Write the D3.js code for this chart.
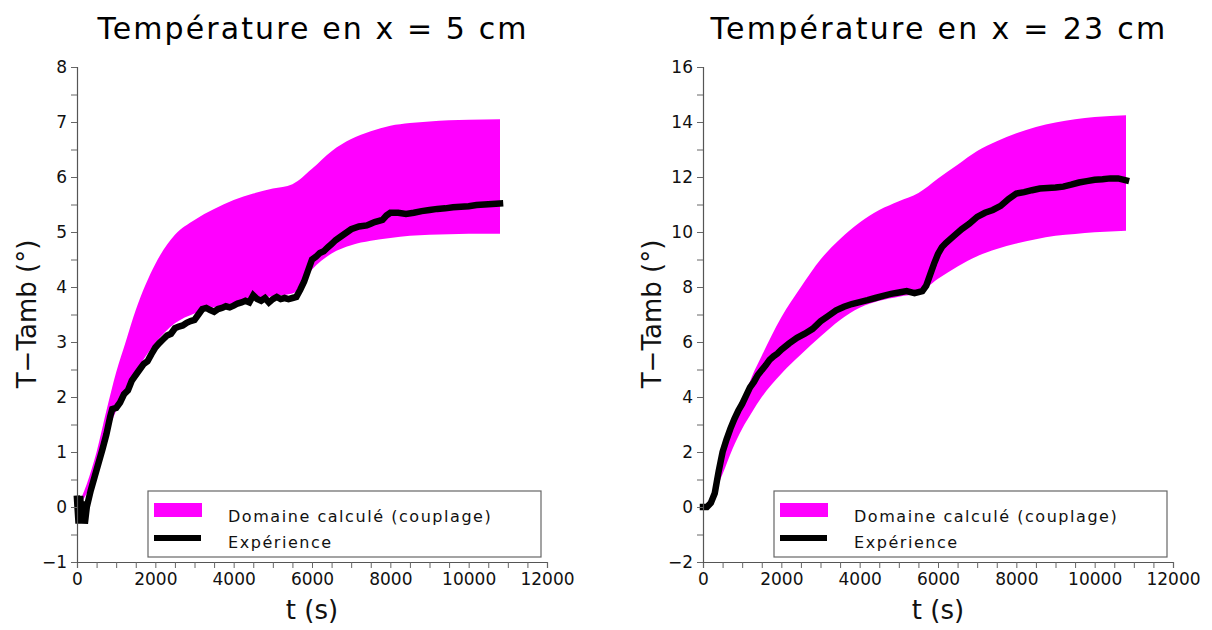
<!DOCTYPE html>
<html>
<head>
<meta charset="utf-8">
<script src="https://cdn.jsdelivr.net/npm/d3@7"></script>
<style>
  html, body { margin: 0; padding: 0; background: #fff; }
  svg { display: block; font-family: "DejaVu Sans", sans-serif; }
</style>
</head>
<body>
<svg id="chart" width="1212" height="630"></svg>
<script>
// ---------- DATA ----------
const titles = ["Température en x = 5 cm", "Température en x = 23 cm"];
const xLabel = "t (s)";
const yLabel = "T\u2212Tamb (°)";
const legendLabels = ["Domaine calculé (couplage)", "Expérience"];

const xTicks = d3.range(0, 12001, 500);
const xTickLabels = [0, 2000, 4000, 6000, 8000, 10000, 12000];
const yTicksLeft = d3.range(-1, 8.001, 0.5);
const yTickLabelsLeft = [-1, 0, 1, 2, 3, 4, 5, 6, 7, 8];
const yTicksRight = d3.range(-2, 16.001, 1);
const yTickLabelsRight = [-2, 0, 2, 4, 6, 8, 10, 12, 14, 16];

// computed band (time, lower, upper)
const tBand = [0, 250, 500, 750, 1000, 1250, 1500, 2000, 2500, 3000, 3500, 4000, 4500, 5000, 5500, 6000, 6500, 7000, 7500, 8000, 8500, 9000, 9500, 10000, 10800];
const leftLower = [0, 0.25, 0.72, 1.3, 1.75, 2.12, 2.45, 2.98, 3.34, 3.52, 3.63, 3.71, 3.78, 3.83, 3.88, 4.32, 4.61, 4.76, 4.84, 4.89, 4.93, 4.95, 4.96, 4.97, 4.97];
const leftUpper = [0, 0.42, 1.0, 1.75, 2.45, 3.02, 3.58, 4.42, 4.95, 5.22, 5.42, 5.58, 5.7, 5.79, 5.87, 6.15, 6.47, 6.69, 6.83, 6.93, 6.98, 7.01, 7.03, 7.04, 7.05];
const rightLower = [0, 0.4, 1.2, 2.1, 2.85, 3.45, 4.0, 4.85, 5.55, 6.2, 6.8, 7.25, 7.5, 7.65, 7.78, 8.3, 8.75, 9.12, 9.38, 9.58, 9.74, 9.86, 9.93, 9.99, 10.05];
const rightUpper = [0, 0.5, 1.7, 2.8, 3.8, 4.75, 5.5, 6.9, 8.0, 9.0, 9.75, 10.35, 10.8, 11.12, 11.42, 11.95, 12.45, 12.95, 13.3, 13.59, 13.82, 13.98, 14.1, 14.18, 14.25];

// experiment, x = 5 cm
const tExpLeft = [0, 40, 80, 120, 160, 200, 250, 300, 350, 450, 550, 650, 750, 850, 900, 1000, 1100, 1200, 1300, 1400, 1500, 1600, 1700, 1800, 1900, 2000, 2100, 2200, 2300, 2400, 2500, 2600, 2700, 2800, 2900, 3000, 3100, 3200, 3300, 3400, 3500, 3600, 3700, 3800, 3900, 4000, 4100, 4200, 4300, 4400, 4500, 4600, 4700, 4800, 4900, 5000, 5100, 5200, 5300, 5400, 5500, 5600, 5700, 5800, 5900, 6000, 6100, 6200, 6300, 6400, 6500, 6600, 6700, 6800, 6900, 7000, 7200, 7400, 7500, 7600, 7800, 7900, 8000, 8200, 8400, 8600, 8800, 9000, 9200, 9400, 9600, 9800, 10000, 10200, 10400, 10600, 10800];
const expLeft = [0.15, -0.3, 0.2, -0.25, 0.1, -0.3, 0.0, 0.15, 0.3, 0.55, 0.8, 1.05, 1.32, 1.65, 1.78, 1.8, 1.9, 2.05, 2.12, 2.3, 2.4, 2.5, 2.6, 2.65, 2.78, 2.9, 2.98, 3.05, 3.12, 3.15, 3.25, 3.28, 3.3, 3.35, 3.38, 3.4, 3.5, 3.6, 3.62, 3.58, 3.55, 3.6, 3.62, 3.65, 3.63, 3.66, 3.7, 3.72, 3.75, 3.72, 3.85, 3.78, 3.75, 3.8, 3.72, 3.78, 3.82, 3.78, 3.8, 3.78, 3.8, 3.82, 3.95, 4.1, 4.3, 4.5, 4.55, 4.62, 4.65, 4.72, 4.78, 4.85, 4.9, 4.95, 5.0, 5.05, 5.1, 5.12, 5.15, 5.18, 5.22, 5.3, 5.35, 5.35, 5.33, 5.35, 5.38, 5.4, 5.42, 5.43, 5.45, 5.46, 5.47, 5.49, 5.5, 5.51, 5.52];

// experiment, x = 23 cm
const tExpRight = [0, 100, 200, 300, 350, 400, 450, 500, 600, 700, 800, 900, 1000, 1100, 1200, 1300, 1400, 1500, 1600, 1700, 1800, 1900, 2000, 2200, 2400, 2600, 2800, 3000, 3200, 3400, 3600, 3800, 4000, 4200, 4400, 4600, 4800, 5000, 5200, 5400, 5600, 5700, 5800, 5900, 6000, 6100, 6200, 6400, 6600, 6800, 7000, 7200, 7400, 7600, 7800, 8000, 8200, 8400, 8600, 8800, 9000, 9200, 9400, 9600, 9800, 10000, 10200, 10400, 10600, 10800];
const expRight = [0, 0.0, 0.15, 0.5, 0.9, 1.3, 1.65, 2.0, 2.45, 2.85, 3.2, 3.5, 3.75, 4.05, 4.35, 4.55, 4.8, 4.98, 5.15, 5.35, 5.48, 5.58, 5.72, 5.95, 6.15, 6.3, 6.48, 6.75, 6.95, 7.15, 7.28, 7.38, 7.45, 7.52, 7.6, 7.68, 7.75, 7.8, 7.85, 7.78, 7.85, 8.05, 8.45, 8.85, 9.2, 9.45, 9.6, 9.85, 10.1, 10.3, 10.55, 10.7, 10.8, 10.95, 11.2, 11.4, 11.45, 11.52, 11.58, 11.6, 11.62, 11.65, 11.72, 11.8, 11.85, 11.9, 11.92, 11.95, 11.95, 11.88];

// ---------- DRAW ----------
const svg = d3.select("#chart");
const fmt = v => (v < 0 ? "\u2212" + Math.abs(v) : String(v));

const panels = [
  { title: titles[0], x0: 77, yDomain: [-1, 8], yTicks: yTicksLeft, yLabels: yTickLabelsLeft,
    lower: leftLower, upper: leftUpper, tExp: tExpLeft, exp: expLeft, yLabX: 36, ls: 2.1 },
  { title: titles[1], x0: 703, yDomain: [-2, 16], yTicks: yTicksRight, yLabels: yTickLabelsRight,
    lower: rightLower, upper: rightUpper, tExp: tExpRight, exp: expRight, yLabX: 661, ls: 2.3 }
];

panels.forEach(p => {
  const x = d3.scaleLinear().domain([0, 12000]).range([p.x0, p.x0 + 470]);
  const y = d3.scaleLinear().domain(p.yDomain).range([562, 67]);
  const g = svg.append("g");

  // band
  const bandData = tBand.map((t, i) => ({ t, lo: p.lower[i], hi: p.upper[i] }));
  g.append("path")
    .datum(bandData)
    .attr("fill", "#ff00ff")
    .attr("d", d3.area().curve(d3.curveMonotoneX)
      .x(d => x(d.t)).y0(d => y(d.lo)).y1(d => y(d.hi)));

  // experiment
  const expData = p.tExp.map((t, i) => ({ t, v: p.exp[i] }));
  g.append("path")
    .datum(expData)
    .attr("fill", "none")
    .attr("stroke", "#000")
    .attr("stroke-width", 6.5)
    .attr("stroke-linejoin", "miter")
    .attr("stroke-linecap", "square")
    .attr("d", d3.line().x(d => x(d.t)).y(d => y(d.v)));

  // axes
  const xAxis = d3.axisBottom(x).tickValues(xTicks)
    .tickFormat(d => xTickLabels.includes(d) ? fmt(d) : "")
    .tickSizeOuter(0).tickSize(6).tickPadding(5);
  const gx = g.append("g").attr("transform", "translate(0,562)").call(xAxis);
  const yAxis = d3.axisLeft(y).tickValues(p.yTicks)
    .tickFormat(d => p.yLabels.includes(d) ? fmt(d) : "")
    .tickSizeOuter(0).tickSize(6).tickPadding(4);
  const gy = g.append("g").attr("transform", `translate(${p.x0},0)`).call(yAxis);
  [gx, gy].forEach(a => {
    a.select(".domain").attr("stroke", "#555").attr("stroke-width", 1.2);
    a.selectAll(".tick line").attr("stroke", "#666");
    a.selectAll(".tick text").attr("fill", "#111").style("font-size", "17px")
      .style("font-family", "'DejaVu Sans', sans-serif");
  });

  // title
  g.append("text")
    .attr("x", p.x0 + 236).attr("y", 39)
    .attr("text-anchor", "middle")
    .style("font-size", "30px").style("letter-spacing", p.ls + "px")
    .attr("fill", "#000")
    .text(p.title);

  // axis labels
  g.append("text")
    .attr("x", p.x0 + 235).attr("y", 619)
    .attr("text-anchor", "middle")
    .style("font-size", "26px")
    .attr("fill", "#111")
    .text(xLabel);
  g.append("text")
    .attr("transform", `translate(${p.yLabX},314) rotate(-90)`)
    .attr("text-anchor", "middle")
    .style("font-size", "26px")
    .attr("fill", "#111")
    .text(yLabel);

  // legend
  const lx = p.x0 + 71, ly = 491;
  const lg = g.append("g");
  lg.append("rect").attr("x", lx).attr("y", ly).attr("width", 393).attr("height", 66)
    .attr("fill", "#fff").attr("stroke", "#666").attr("stroke-width", 1.2);
  lg.append("rect").attr("x", lx + 6).attr("y", ly + 12).attr("width", 48).attr("height", 14)
    .attr("fill", "#ff00ff");
  lg.append("line").attr("x1", lx + 6).attr("x2", lx + 53).attr("y1", ly + 47).attr("y2", ly + 47)
    .attr("stroke", "#000").attr("stroke-width", 6);
  lg.append("text").attr("x", lx + 80).attr("y", ly + 31)
    .style("font-size", "16px").style("letter-spacing", "1.55px").attr("fill", "#111")
    .text(legendLabels[0]);
  lg.append("text").attr("x", lx + 80).attr("y", ly + 57)
    .style("font-size", "16px").style("letter-spacing", "1.55px").attr("fill", "#111")
    .text(legendLabels[1]);
});
</script>
</body>
</html>
